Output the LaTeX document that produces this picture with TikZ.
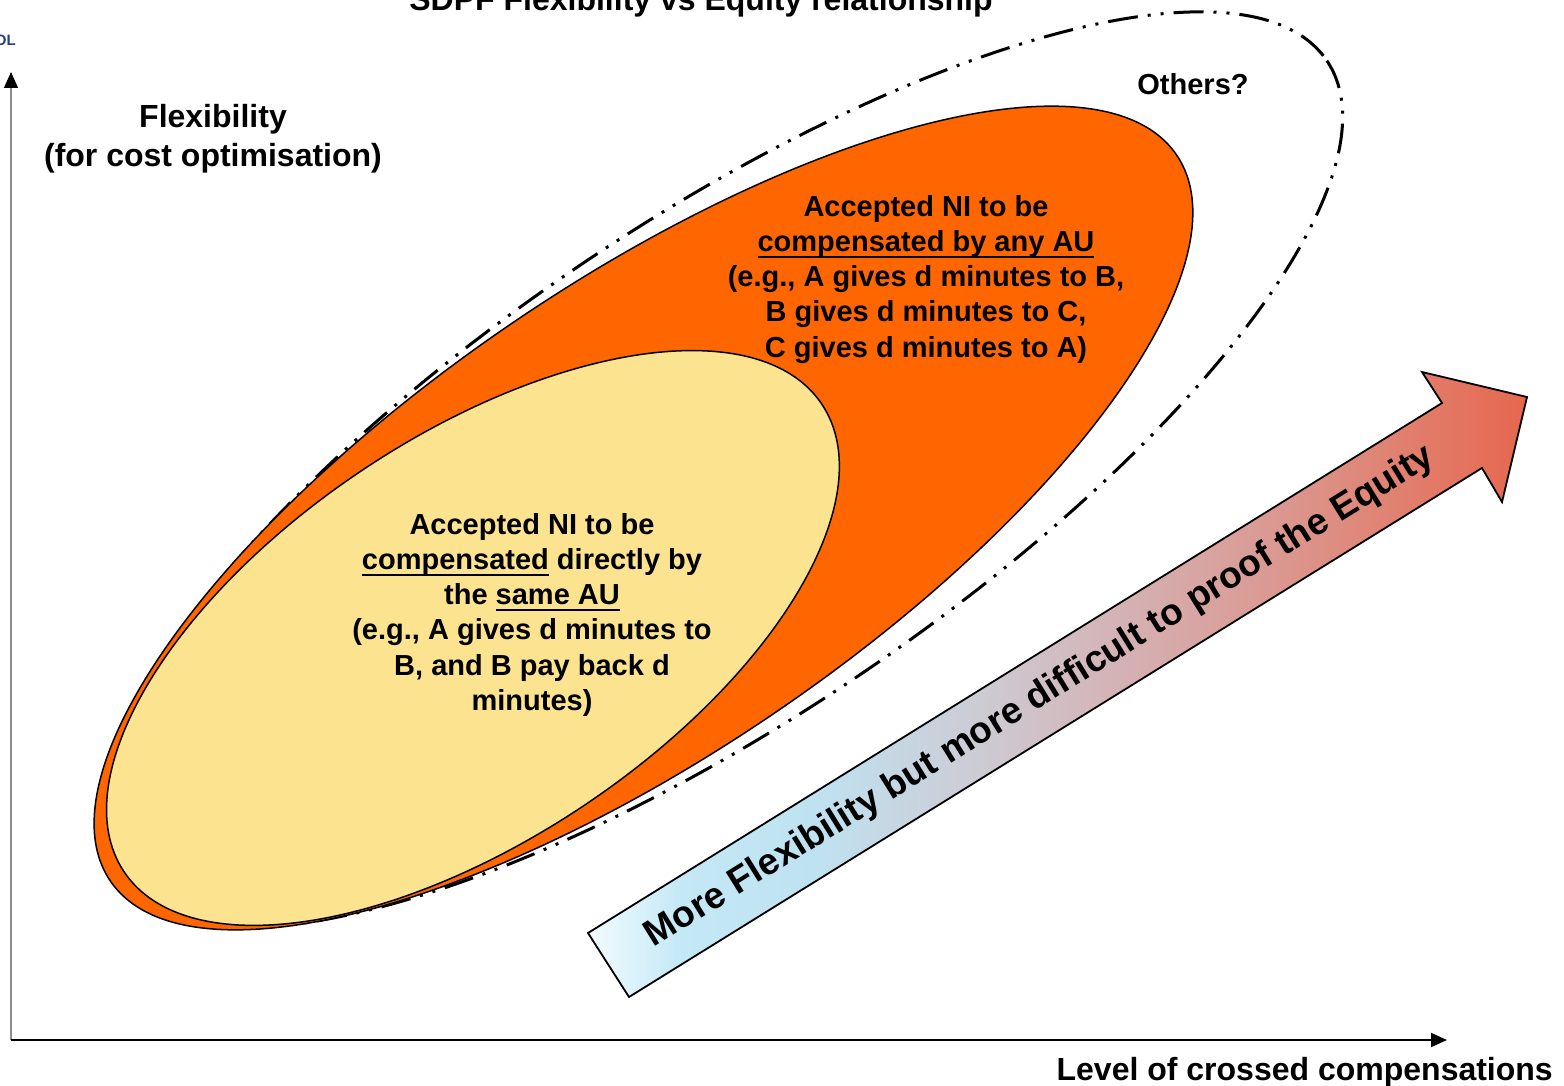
\documentclass[tikz,border=0pt]{standalone}
\usepackage{fontspec}
\setmainfont{Liberation Sans}
\usetikzlibrary{arrows.meta}

\definecolor{flexorange}{HTML}{FF6600}
\definecolor{flexyellow}{HTML}{FCE38F}
\definecolor{logoblue}{HTML}{22407E}
\definecolor{axisgray}{HTML}{8C8C8C}
\definecolor{eqA}{HTML}{F2FBFE}
\definecolor{eqB}{HTML}{C4E8F6}
\definecolor{eqC}{HTML}{BFE2F1}
\definecolor{eqD}{HTML}{CDCBD3}
\definecolor{eqE}{HTML}{D4B3B6}
\definecolor{eqF}{HTML}{DB978F}
\definecolor{eqG}{HTML}{E6674D}

% cool-to-warm fill of the big arrow (path bounding box spans 25bp..75bp)
\pgfdeclarehorizontalshading{equityshade}{100bp}{%
  color(0bp)=(eqA); color(25bp)=(eqA); color(30bp)=(eqB); color(37bp)=(eqC);
  color(46bp)=(eqD); color(53bp)=(eqE); color(62bp)=(eqF); color(75bp)=(eqG);
  color(100bp)=(eqG)}

% underline at a fixed depth below the baseline
\newsavebox\ulbox
\newcommand\ulbar[1]{\sbox\ulbox{#1}\rlap{\rule[-6.5pt]{\wd\ulbox}{1.8pt}}\usebox\ulbox}

\begin{document}
\begin{tikzpicture}[x=1pt,y=-1pt,
  lbl/.style={font=\fontsize{29}{35.3}\selectfont\bfseries, align=center, inner sep=0pt},
  axislbl/.style={font=\fontsize{32}{39}\selectfont\bfseries, align=center, inner sep=0pt},
  zone/.style={draw=black, line width=1.5pt},
  othersline/.style={draw=black, line width=3pt,
    dash pattern=on 30pt off 10pt on 3pt off 10pt on 3pt off 10pt},
  axisarrow/.style={-{Triangle[length=16pt,width=14pt,color=black]}}]
\useasboundingbox (0,0) rectangle (1564,1086);
\clip (0,0) rectangle (1564,1086);

% header fragments
\node[font=\fontsize{32}{38}\selectfont\bfseries, anchor=base, inner sep=0pt] (title)
  at (701,11) {SDPF Flexibility vs Equity relationship};
\node[font=\fontsize{15}{18}\selectfont\bfseries, text=logoblue, anchor=base east, inner sep=0pt] (logo)
  at (16,46) {OL};

% region centres
\coordinate (ocenter) at (720,470);
\coordinate (acenter) at (643.5,518);
\coordinate (scenter) at (473,638);

% outer "others" region
\draw[othersline, rotate around={34:(ocenter)}]
  (ocenter) ellipse [x radius=732, y radius=248];

% compensation by any AU
\filldraw[zone, fill=flexorange, rotate around={34.26:(acenter)}]
  (acenter) ellipse [x radius=645, y radius=235];

% compensation by the same AU
\filldraw[zone, fill=flexyellow, rotate around={33.85:(scenter)}]
  (scenter) ellipse [x radius=420, y radius=201];

% region labels (anchored on the baseline of their last line)
\node[lbl, anchor=base] (anyau) at (926,357.2)
  {Accepted NI to be\\ \ulbar{compensated by any AU}\\ (e.g., A gives d minutes to B,\\
   B gives d minutes to C,\\ C gives d minutes to A)};
\node[lbl, anchor=base] (sameau) at (532,710.5)
  {Accepted NI to be\\ \ulbar{compensated} directly by\\ the \ulbar{same AU}\\
   (e.g., A gives d minutes to\\ B, and B pay back d\\ minutes)};
\node[font=\fontsize{29}{35}\selectfont\bfseries, anchor=base, inner sep=0pt] (others)
  at (1193,95) {Others?};

% trend arrow
\coordinate (t1) at (588,933);
\coordinate (n1) at (1442,403);
\coordinate (h1) at (1422,372);
\coordinate (tip) at (1527,397);
\coordinate (h2) at (1502,502);
\coordinate (n2) at (1482,468);
\coordinate (t2) at (629,997);
\shadedraw[shading=equityshade, draw=black, line width=1.8pt, line join=miter]
  (t1) -- (n1) -- (h1) -- (tip) -- (h2) -- (n2) -- (t2) -- cycle;
\node[font=\fontsize{37}{40}\selectfont\bfseries, rotate=31.8, inner sep=0pt] (trend)
  at (1040,697) {More Flexibility but more difficult to proof the Equity};

% axes
\coordinate (origin) at (11,1040);
\coordinate (ytop) at (11,72);
\coordinate (xend) at (1447,1040);
\draw[axisgray, line width=1.2pt, axisarrow] (origin) -- (ytop);
\draw[black, line width=2pt, axisarrow] (origin) -- (xend);

\node[axislbl, anchor=base] (flex) at (213,167) {Flexibility\\(for cost optimisation)};
\node[axislbl, anchor=base east] (level) at (1553,1080) {Level of crossed compensations};
\end{tikzpicture}
\end{document}
